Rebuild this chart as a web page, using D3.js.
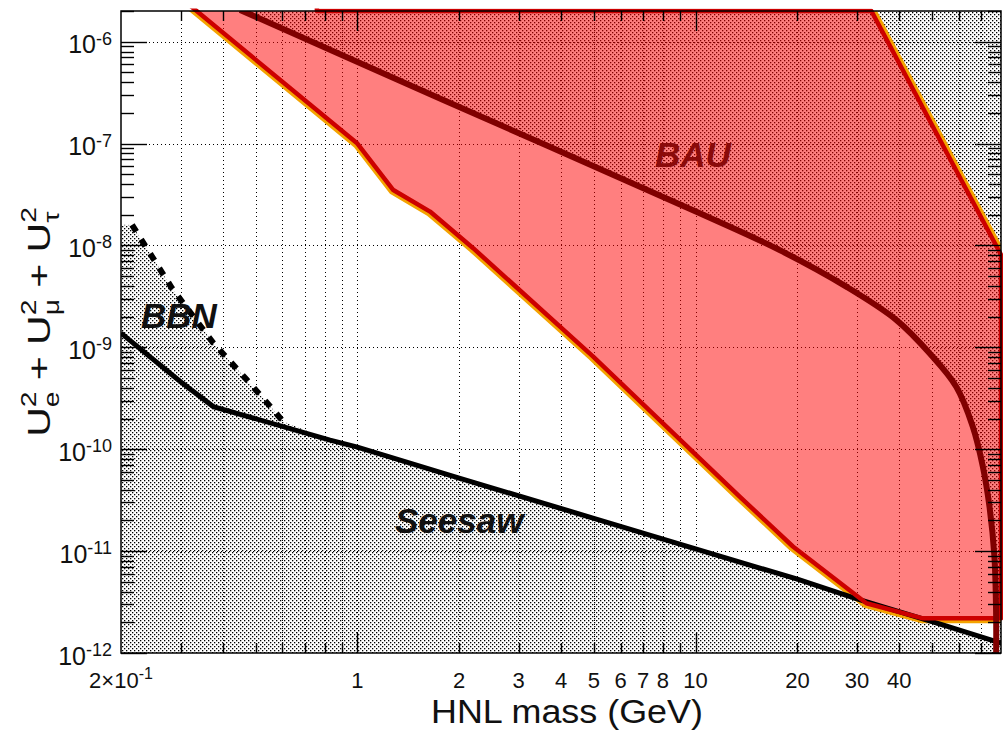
<!DOCTYPE html>
<html>
<head>
<meta charset="utf-8">
<script src="https://cdn.jsdelivr.net/npm/d3@7"></script>
<style>
  body { margin: 0; background: #fff; }
  svg { display: block; }
</style>
</head>
<body>
<script>
// ---- data ----
// seesaw lower bound
const seesawMass = [0.2, 0.3, 0.375, 0.83, 1, 2, 5, 10, 20, 30, 55, 80]
const seesawU2 = [1.38e-9, 4.6e-10, 2.62e-10, 1.23e-10, 1.05e-10, 5.2e-11, 2.1e-11, 1.05e-11, 5.3e-12, 3.4e-12, 1.85e-12, 1.25e-12]

// BBN dashed bound
const bbnMass = [0.2156, 0.283, 0.375, 0.471, 0.559, 0.603]
const bbnU2 = [1.59e-8, 3.8e-9, 1.1e-9, 4.8e-10, 2.52e-10, 1.87e-10]

// BAU upper bound (dark red)
const bauMass = [0.45, 1.795, 10.29, 17.73, 27.9, 39.2, 49.2, 59.0, 66.0, 70.7, 73.97, 76.5, 77.4, 77.4]
const bauU2 = [2.05e-6, 2.68e-7, 2.07e-8, 9.0e-9, 3.94e-9, 1.86e-9, 8.75e-10, 4.11e-10, 1.67e-10, 6.75e-11, 2.73e-11, 8.8e-12, 2.28e-12, 1e-12]

// sensitivity region (red), lower edge then upper edge
const sensLowMass = [0.3, 1.0, 1.277, 1.64, 2.2, 4.98, 13.5, 19.4, 32.0, 47.0, 80]
const sensLowU2 = [2.7e-6, 1.0e-7, 3.5e-8, 2.15e-8, 9.4e-9, 8.1e-10, 3.43e-11, 1.11e-11, 3.08e-12, 2.19e-12, 2.19e-12]
const sensTopMass = [80, 33.1, 0.759, 0.759]
const sensTopU2 = [8.1e-9, 2.0e-6, 2.0e-6, 2.7e-6]

// axes
const xMinor = [0.3, 0.4, 0.5, 0.6, 0.7, 0.8, 0.9, 2, 3, 4, 5, 6, 7, 8, 9, 20, 30, 40, 50, 60, 70]
const xMajor = [1, 10]
const xLabels = [1, 2, 3, 4, 5, 6, 7, 8, 10, 20, 30, 40]
const yExps = [-12, -11, -10, -9, -8, -7, -6]

const WIDTH = 1003
const HEIGHT = 732
const X0 = 121, X1 = 1001, Y0 = 11, Y1 = 653

const x = d3.scaleLog().domain([0.2, 80]).range([X0, X1])
const y = d3.scaleLog().domain([1e-12, 2e-6]).range([Y1, Y0])
// rounded copies so the dotted grid and ticks stay crisp
const xr = x.copy().interpolate(d3.interpolateRound)
const yr = y.copy().interpolate(d3.interpolateRound)

const zip = (a, b) => a.map((v, i) => [v, b[i]])
const line = d3.line().x(d => x(d[0])).y(d => y(d[1]))
const smooth = d3.line().x(d => x(d[0])).y(d => y(d[1])).curve(d3.curveCatmullRom.alpha(0.5))

const yMajor = yExps.map(e => Math.pow(10, e))
const yMinor = []
yExps.forEach(e => { for (let k = 2; k <= 9; k++) { const v = k * Math.pow(10, e); if (v <= 2e-6) yMinor.push(v) } })

const svg = d3.select(document.body).append('svg')
  .attr('width', WIDTH)
  .attr('height', HEIGHT)
  .style('font-family', '"Liberation Sans", Arial, sans-serif')

svg.append('rect').attr('width', WIDTH).attr('height', HEIGHT).attr('fill', '#fff')

const defs = svg.append('defs')
defs.append('clipPath').attr('id', 'plot')
  .append('rect').attr('x', X0).attr('y', Y0).attr('width', X1 - X0).attr('height', Y1 - Y0)
defs.append('clipPath').attr('id', 'plotTop')
  .append('rect').attr('x', X0).attr('y', Y0 - 2.5).attr('width', X1 - X0 + 2).attr('height', Y1 - Y0 + 2.5)

const pat = defs.append('pattern').attr('id', 'dots')
  .attr('patternUnits', 'userSpaceOnUse').attr('width', 4).attr('height', 4)
pat.append('rect').attr('x', 0).attr('y', 0).attr('width', 1.3).attr('height', 1.3).attr('fill', '#000')
pat.append('rect').attr('x', 2).attr('y', 2).attr('width', 1.3).attr('height', 1.3).attr('fill', '#000')

const sensPoly = zip(sensLowMass, sensLowU2).concat(zip(sensTopMass, sensTopU2))

const mask = defs.append('mask').attr('id', 'outside')
mask.append('rect').attr('width', WIDTH).attr('height', HEIGHT).attr('fill', '#fff')
mask.append('path').attr('d', line(sensPoly) + 'Z').attr('fill', '#000')

// grid
const grid = svg.append('g').attr('clip-path', 'url(#plot)')
grid.append('g').attr('transform', `translate(0,${Y1})`)
  .call(d3.axisBottom(xr).tickValues(xMinor.concat(xMajor)).tickSize(-(Y1 - Y0)).tickFormat(''))
  .call(g => g.select('.domain').remove())
  .selectAll('line').attr('stroke', '#000').attr('stroke-width', 1).attr('stroke-dasharray', '1,3')
grid.append('g').attr('transform', `translate(${X0},0)`)
  .call(d3.axisLeft(yr).tickValues(yMajor).tickSize(-(X1 - X0)).tickFormat(''))
  .call(g => g.select('.domain').remove())
  .selectAll('line').attr('stroke', '#000').attr('stroke-width', 1).attr('stroke-dasharray', '1,3')

// hatched excluded regions
const hatch = svg.append('g').attr('clip-path', 'url(#plot)')
const seesawAfterBbn = zip(seesawMass, seesawU2).filter(d => d[0] > bbnMass[bbnMass.length - 1])
const lowPoly = [[0.2, 1.6e-8]].concat(zip(bbnMass, bbnU2), seesawAfterBbn, [[80, 1e-12], [0.2, 1e-12]])
hatch.append('path').attr('d', line(lowPoly) + 'Z').attr('fill', 'url(#dots)')
const bauPath = smooth(zip(bauMass, bauU2))
hatch.append('path')
  .attr('d', bauPath + line([[77.4, 1e-12], [80, 1e-12], [80, 2e-6], [0.45, 2e-6]]).replace('M', 'L') + 'Z')
  .attr('fill', 'url(#dots)')

// orange fringe outside the sensitivity region
svg.append('g').attr('clip-path', 'url(#plot)')
  .append('path').attr('d', line(sensPoly) + 'Z')
  .attr('fill', 'none').attr('stroke', '#f4a300').attr('stroke-width', 10)
  .attr('stroke-linejoin', 'round').attr('mask', 'url(#outside)')

// sensitivity fill
svg.append('g').attr('clip-path', 'url(#plot)')
  .append('path').attr('d', line(sensPoly) + 'Z')
  .attr('fill', 'rgba(255,0,0,0.5)')

// seesaw + BBN lines
const lines = svg.append('g').attr('clip-path', 'url(#plot)')
lines.append('path').attr('d', line(zip(seesawMass, seesawU2)))
  .attr('fill', 'none').attr('stroke', '#000').attr('stroke-width', 5)
lines.append('path').attr('d', line(zip(bbnMass, bbnU2)))
  .attr('fill', 'none').attr('stroke', '#000').attr('stroke-width', 6)
  .attr('stroke-dasharray', '8,9')

// sensitivity outline
svg.append('g').attr('clip-path', 'url(#plotTop)')
  .append('path').attr('d', line(sensPoly) + 'Z')
  .attr('fill', 'none').attr('stroke', '#cc0000').attr('stroke-width', 4.5)
  .attr('stroke-linejoin', 'round')

// BAU curve
svg.append('g').attr('clip-path', 'url(#plot)')
  .append('path').attr('d', bauPath)
  .attr('fill', 'none').attr('stroke', '#800000').attr('stroke-width', 6)

// frame and ticks
svg.append('rect').attr('x', X0).attr('y', Y0).attr('width', X1 - X0).attr('height', Y1 - Y0)
  .attr('fill', 'none').attr('stroke', '#000').attr('stroke-width', 1.5)

function ticks(axis, values, size, transform) {
  svg.append('g').attr('transform', transform)
    .call(axis.tickValues(values).tickSize(size).tickFormat(''))
    .call(g => g.select('.domain').remove())
    .selectAll('line').attr('stroke', '#000').attr('stroke-width', 1.4)
}
ticks(d3.axisBottom(xr), xMinor, -10, `translate(0,${Y1})`)
ticks(d3.axisBottom(xr), xMajor, -20, `translate(0,${Y1})`)
ticks(d3.axisTop(xr), xMinor, -10, `translate(0,${Y0})`)
ticks(d3.axisTop(xr), xMajor, -20, `translate(0,${Y0})`)
ticks(d3.axisLeft(yr), yMinor, -13, `translate(${X0},0)`)
ticks(d3.axisLeft(yr), yMajor, -26, `translate(${X0},0)`)
ticks(d3.axisRight(yr), yMinor, -13, `translate(${X1},0)`)
ticks(d3.axisRight(yr), yMajor, -26, `translate(${X1},0)`)

// x tick labels
svg.append('g').selectAll('text')
  .data(xLabels)
  .enter()
  .append('text')
  .attr('x', d => x(d))
  .attr('y', 688)
  .attr('text-anchor', 'middle')
  .attr('font-size', 22)
  .attr('fill', '#111')
  .text(d => d)
const first = svg.append('text').attr('x', x(0.2)).attr('y', 688)
  .attr('text-anchor', 'middle').attr('font-size', 22).attr('fill', '#111')
first.append('tspan').text('2\u00d710')
first.append('tspan').attr('dy', -9).attr('font-size', 16).text('-1')

// y tick labels
yExps.forEach(e => {
  const t = svg.append('text').attr('x', 112).attr('y', y(Math.pow(10, e)) + 11.5)
    .attr('text-anchor', 'end').attr('font-size', 25).attr('fill', '#111')
  t.append('tspan').text('10')
  t.append('tspan').attr('dy', -8.5).attr('font-size', 18).text(String(e))
})

// axis titles
svg.append('text').attr('x', 567).attr('y', 723)
  .attr('text-anchor', 'middle').attr('font-size', 33).attr('fill', '#111')
  .attr('textLength', 272).attr('lengthAdjust', 'spacingAndGlyphs')
  .text('HNL mass (GeV)')

const yt = svg.append('text')
  .attr('transform', 'translate(50,322) rotate(-90) scale(1.28,1)')
  .attr('text-anchor', 'middle').attr('font-size', 32).attr('fill', '#111')
const flavours = ['e', '\u03bc', '\u03c4']
flavours.forEach((f, i) => {
  yt.append('tspan').attr('dy', i === 0 ? 0 : -9).text(i === 0 ? 'U' : ' + U')
  yt.append('tspan').attr('dy', -14).attr('font-size', 22).text('2')
  yt.append('tspan').attr('dx', -12.2).attr('dy', 23).attr('font-size', 22).text(f)
})

// region names
const note = (txt, px, py, col) => svg.append('text').attr('x', px).attr('y', py)
  .attr('font-size', 35).attr('font-weight', 'bold').attr('font-style', 'italic')
  .attr('fill', col).text(txt)
note('BBN', 141, 328, '#111')
note('Seesaw', 395, 533, '#111')
note('BAU', 655, 167, '#8b0a0a')
</script>
</body>
</html>
